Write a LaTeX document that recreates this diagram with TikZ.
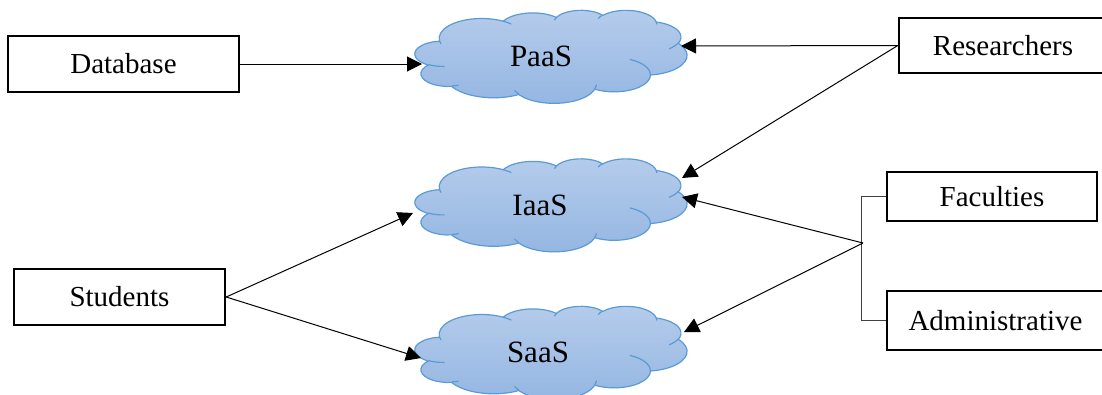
\documentclass[tikz,border=0pt]{standalone}
\usepackage{fontspec}
\setmainfont{Liberation Serif}
\usetikzlibrary{arrows.meta,calc}
\definecolor{cloudedge}{RGB}{91,155,213}
\definecolor{cloudtop}{RGB}{181,204,235}
\definecolor{cloudbot}{RGB}{148,182,226}
\newcommand\skyshape[2]{%
  \begin{scope}[shift={(#1-136,#2-46.5)}, x=0.0629630pt, y=-0.0215278pt]
    \path[skyfill] (390,1437)
      arc[start angle=-187.745, end angle=-59.63, x radius=675.3, y radius=919.0]
      arc[start angle=-152.02, end angle=-45.46, x radius=533.3, y radius=726.7]
      arc[start angle=-153.49, end angle=-37.33, x radius=436.5, y radius=594.5]
      arc[start angle=-139.71, end angle=-10.21, x radius=485.7, y radius=659.5]
      arc[start angle=-74.77, end angle=23.21, x radius=533.3, y radius=727.3]
      arc[start angle=-37.52, end angle=81.86, x radius=677.5, y radius=922.0]
      arc[start angle=0.46, end angle=121.98, x radius=578.5, y radius=786.7]
      arc[start angle=16.84, end angle=146.23, x radius=675.2, y radius=921.5]
      arc[start angle=58.98, end angle=150.18, x radius=772.0, y radius=1054.3]
      arc[start angle=-276.69, end angle=-136.90, x radius=436.0, y radius=591.8]
      arc[start angle=-239.65, end angle=-95.89, x radius=434.5, y radius=594.5]
      -- cycle;
    \draw[skyline]
      (469.3,2617.7) arc[start angle=85.55, end angle=120.35, x radius=434.5, y radius=594.5]
      (692.8,3489.9) arc[start angle=68.24, end angle=83.31, x radius=436.0, y radius=591.8]
      (1647.8,3909.0) arc[start angle=146.23, end angle=158.47, x radius=675.2, y radius=921.5]
      (2882.7,3475.1) arc[start angle=4.74, end angle=16.84, x radius=675.2, y radius=921.5]
      (3412.9,2295.4) arc[start angle=-64.03, end angle=0.46, x radius=578.5, y radius=786.7]
      (4179.8,1535.4) arc[start angle=23.21, end angle=49.63, x radius=533.3, y radius=727.3]
      (3832.4,542.6) arc[start angle=-10.21, end angle=0.82, x radius=485.7, y radius=659.5]
      (2907.8,395.2) arc[start angle=-156.29, end angle=-139.71, x radius=485.7, y radius=659.5]
      (2214.1,472.0) arc[start angle=-167.73, end angle=-153.49, x radius=436.5, y radius=594.5]
      (1400.0,519.2) arc[start angle=-59.63, end angle=-45.74, x radius=675.3, y radius=919.0]
      (412.7,1578.9) arc[start angle=163.19, end angle=172.25, x radius=675.3, y radius=919.0];
  \end{scope}}
\begin{document}
\begin{tikzpicture}[x=1pt,y=-1pt,
  box/.style={draw, line width=2.4pt, inner sep=0pt, font=\fontsize{29}{34}\selectfont},
  skyfill/.style={draw=cloudedge, line width=1.2pt, top color=cloudtop, bottom color=cloudbot},
  skyline/.style={draw=cloudedge, line width=1.2pt},
  sky/.style={minimum width=272pt, minimum height=93pt, inner sep=0pt,
    font=\fontsize{31}{36}\selectfont},
  conn/.style={line width=1pt, -{Triangle[length=15pt,width=15pt]}},
  brk/.style={line width=1.3pt, draw=black!75}]
\clip (0,0) rectangle (1102,394);
% cloud outlines
\skyshape{551}{56.5}
\skyshape{551}{205}
\skyshape{551}{352.5}
% cloud labels
\node[sky] (paas) at (551,56.5) {PaaS\hspace*{20pt}};
\node[sky] (iaas) at (551,205) {IaaS\hspace*{22pt}};
\node[sky] (saas) at (551,352.5) {SaaS\hspace*{26pt}};
% boxes
\node[box, minimum width=231pt, minimum height=56pt] (db) at (123.5,64) {Database};
\node[box, minimum width=211pt, minimum height=56pt] (stu) at (119.5,297) {Students};
\node[box, minimum width=208pt, minimum height=55pt] (res) at (1003,45.5) {Researchers};
\node[box, minimum width=210pt, minimum height=49pt] (fac) at (992,196.5) {Faculties};
\node[box, minimum width=217pt, minimum height=59pt] (adm) at (995.5,320.5) {Administrative};
% connectors
\draw[conn] (db.east) -- ($(paas.center)+(-129,7.5)$);
\draw[conn] (res.west) -- ($(paas.center)+(130,-10.5)$);
\draw[conn] (res.west) -- ($(iaas.center)+(131,-27)$);
\draw[conn] (stu.east) -- ($(iaas.center)+(-138,8)$);
\draw[conn] (stu.east) -- ($(saas.center)+(-130,5.5)$);
% bracket
\draw[brk] (fac.west) -- ++(-24,0) coordinate (bt) -- (bt |- adm.west) coordinate (bb) -- (adm.west);
\coordinate (j) at (863,243);
\draw[conn] (j) -- ($(iaas.center)+(131,-8)$);
\draw[conn] (j) -- ($(saas.center)+(133,-20.5)$);
\end{tikzpicture}
\end{document}
